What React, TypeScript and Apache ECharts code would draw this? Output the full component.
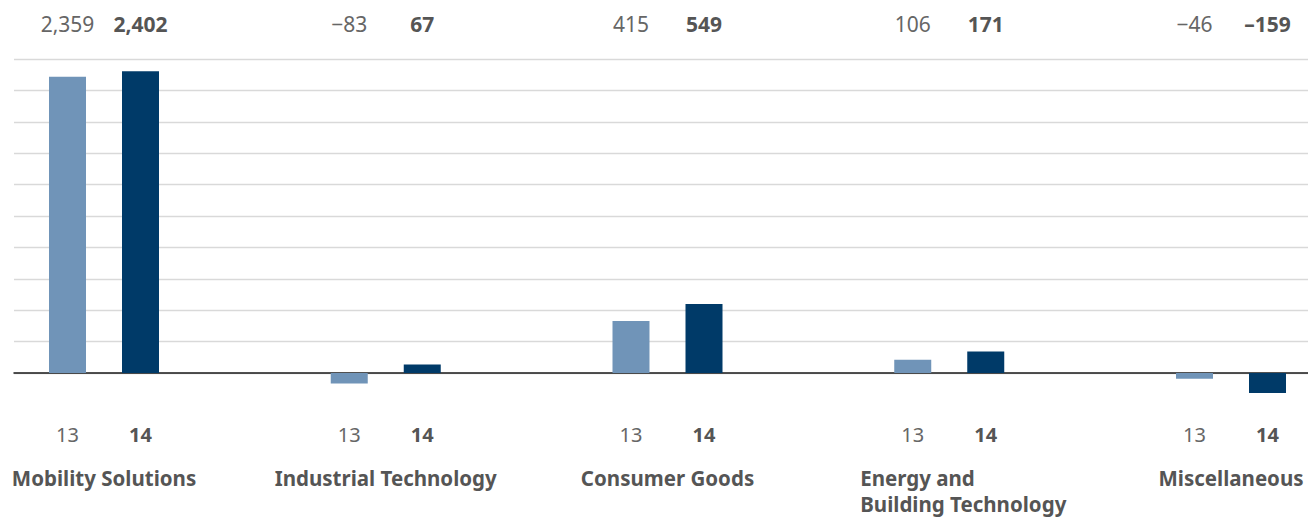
import React, { useEffect, useRef } from 'react';
import * as echarts from 'echarts';

const categories = [
  'Mobility Solutions',
  'Industrial Technology',
  'Consumer Goods',
  'Energy and\nBuilding Technology',
  'Miscellaneous',
];
const years = ['13', '14'];
const values2013 = [2359, -83, 415, 106, -46];
const values2014 = [2402, 67, 549, 171, -159];
const yMin = -250;
const yMax = 2500;
const yInterval = 250;

const fmt = (v: number, dash: string) => {
  const s = Math.abs(v).toLocaleString('en-US');
  return v < 0 ? dash + s : s;
};

const FONT = 'Noto Sans';

export default function App() {
  const ref = useRef<HTMLDivElement>(null);
  useEffect(() => {
    const chart = echarts.init(ref.current as HTMLDivElement, null, { renderer: 'svg' });
    const top = 59;
    const h = 345.4;
    const band = 281.75;
    const w = band * categories.length;
    const barLeft = -36.875;
    const shift = 36.5;
    const tickCount = Math.round((yMax - yMin) / yInterval) + 1;
    const splitColors = Array.from({ length: tickCount }, (_, i) =>
      yMin + i * yInterval < 0 ? 'rgba(0,0,0,0)' : '#d9d9d9'
    );
    const hiddenY = (gridIndex: number) => ({
      gridIndex,
      type: 'value',
      min: yMin,
      max: yMax,
      interval: yInterval,
      show: false,
    });
    const labelAxis = (gridIndex: number, position: string, margin: number, fontSize: number, bold: boolean, fmtFn: (i: number) => string) => ({
      gridIndex,
      type: 'category',
      position,
      data: categories,
      axisLine: { show: false },
      axisTick: { show: false },
      splitLine: { show: false },
      axisLabel: {
        interval: 0,
        margin,
        hideOverlap: false,
        fontFamily: FONT,
        fontSize,
        lineHeight: 22,
        fontWeight: bold ? 'bold' : 'normal',
        color: bold ? '#555555' : '#666666',
        formatter: (_v: string, i: number) => fmtFn(i),
      },
    });
    const gridBase = { top, height: h, outerBoundsMode: 'none', containLabel: false };
    const categoryData = categories.map((c) =>
      c.indexOf('\n') >= 0 ? { value: c, textStyle: { padding: [0, 0, 0, 28] } } : c
    );
    chart.setOption({
      animation: false,
      textStyle: { fontFamily: FONT },
      grid: [
        { ...gridBase, left: 14, right: 0 },
        { ...gridBase, left: barLeft, width: w },
        { ...gridBase, left: barLeft - shift, width: w },
        { ...gridBase, left: barLeft + shift, width: w },
      ],
      xAxis: [
        {
          gridIndex: 0,
          type: 'value',
          min: 0,
          max: 1,
          axisLine: { show: true, onZero: true, lineStyle: { color: '#1a1a1a', width: 1.5 } },
          axisTick: { show: false },
          axisLabel: { show: false },
          splitLine: { show: false },
        },
        {
          gridIndex: 1,
          type: 'category',
          data: categoryData,
          axisLine: { show: false },
          axisTick: { show: false },
          splitLine: { show: false },
          axisLabel: {
            interval: 0,
            margin: 61,
            fontFamily: FONT,
            fontSize: 20.5,
            fontWeight: 'bold',
            color: '#555555',
            lineHeight: 26,
            formatter: (v: string) =>
              v.split('\n').map((l) => `{n|${l}}`).join('\n'),
            rich: {
              n: {
                align: 'left',
                fontFamily: FONT,
                fontSize: 20.5,
                fontWeight: 'bold',
                color: '#555555',
                lineHeight: 26,
              },
            },
          },
        },
        labelAxis(2, 'bottom', 18.6, 20, false, () => years[0]),
        labelAxis(2, 'top', 24, 21, false, (i) => fmt(values2013[i], '\u2212')),
        labelAxis(3, 'bottom', 18.6, 20, true, () => years[1]),
        labelAxis(3, 'top', 24, 21, true, (i) => fmt(values2014[i], '\u2013')),
      ],
      yAxis: [
        {
          gridIndex: 0,
          type: 'value',
          min: yMin,
          max: yMax,
          interval: yInterval,
          axisLine: { show: false },
          axisTick: { show: false },
          axisLabel: { show: false },
          splitLine: { show: true, lineStyle: { color: splitColors, width: 1.3 } },
        },
        hiddenY(1),
        hiddenY(2),
        hiddenY(3),
      ],
      series: [
        {
          name: '2013',
          type: 'bar',
          xAxisIndex: 1,
          yAxisIndex: 1,
          data: values2013,
          barWidth: 37,
          barGap: '97.3%',
          itemStyle: { color: '#7094b8' },
        },
        {
          name: '2014',
          type: 'bar',
          xAxisIndex: 1,
          yAxisIndex: 1,
          data: values2014,
          barWidth: 37,
          barGap: '97.3%',
          itemStyle: { color: '#003a68' },
        },
      ],
    });
    return () => chart.dispose();
  }, []);
  return (
    <div
      ref={ref}
      style={{ position: 'absolute', left: 0, top: 0, width: 1308, height: 517 }}
    />
  );
}
